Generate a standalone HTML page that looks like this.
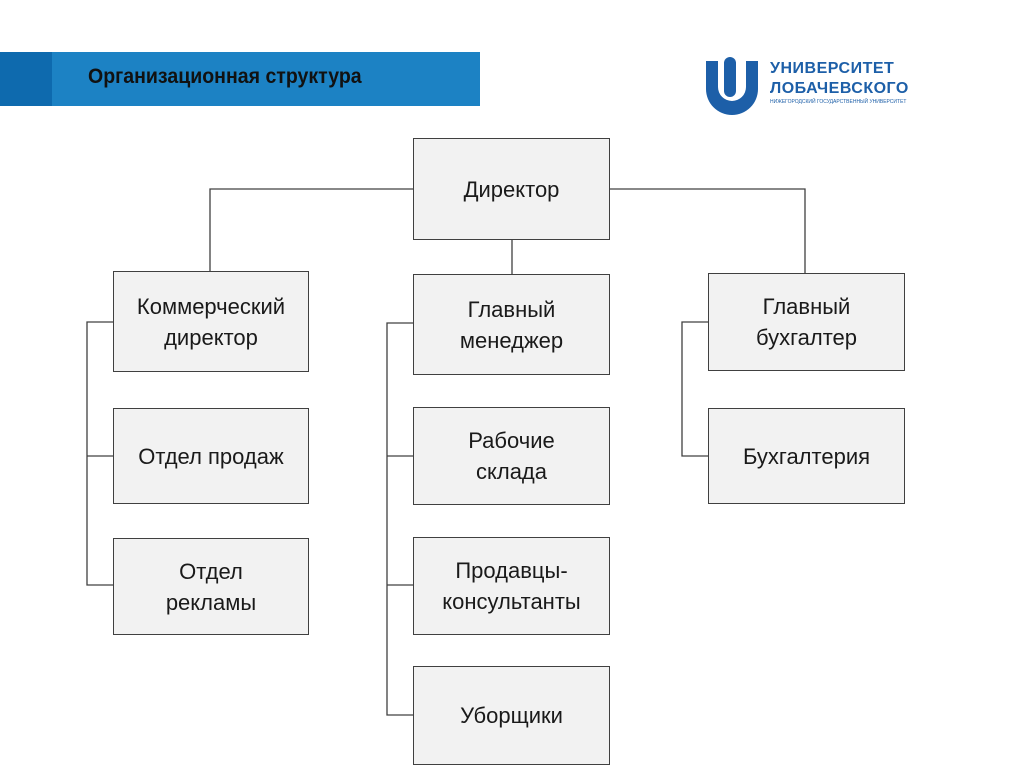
<!DOCTYPE html>
<html><head><meta charset="utf-8"><style>
body{margin:0;width:1024px;height:767px;background:#fff;position:relative;overflow:hidden;font-family:"Liberation Sans",sans-serif}
.b{position:absolute;background:#f2f2f2;border:1px solid #404040;box-sizing:border-box;display:flex;align-items:center;justify-content:center;text-align:center;font-size:22px;line-height:31px;color:#1a1a1a}
</style></head><body>
<div style="position:absolute;left:0;top:52px;width:480px;height:54px;background:#1c82c4"></div>
<div style="position:absolute;left:0;top:52px;width:52px;height:54px;background:#0e6aae"></div>
<div style="position:absolute;left:88px;top:65px;font-size:21px;font-weight:bold;color:#111;transform:scaleX(0.93);transform-origin:left">Организационная структура</div>
<svg style="position:absolute;left:702px;top:55px" width="60" height="60"><path d="M4 6 h12 v26 a14 14 0 0 0 28 0 v-26 h12 v28 a26 26 0 0 1 -52 0z" fill="#1d5fa8"/><rect x="22" y="2" width="12" height="40" rx="6" fill="#1d5fa8"/></svg>
<div style="position:absolute;left:770px;top:59px;font-size:16px;font-weight:bold;color:#1d5fa8;line-height:20px;letter-spacing:0.5px">УНИВЕРСИТЕТ<br>ЛОБАЧЕВСКОГО</div>
<div style="position:absolute;left:770px;top:99px;font-size:5px;color:#1d5fa8">НИЖЕГОРОДСКИЙ ГОСУДАРСТВЕННЫЙ УНИВЕРСИТЕТ</div>
<svg style="position:absolute;left:0;top:0" width="1024" height="767" fill="none" stroke="#404040" stroke-width="1.3">
<path d="M413 189H210V271M610 189H805V273M512 240V274"/>
<path d="M113 322H87V585H113M87 456H113"/>
<path d="M413 323H387V715H413M387 456H413M387 585H413"/>
<path d="M708 322H682V456H708"/>
</svg>
<div class="b" style="left:413px;top:138px;width:197px;height:102px">Директор</div>
<div class="b" style="left:113px;top:271px;width:196px;height:101px">Коммерческий<br>директор</div>
<div class="b" style="left:413px;top:274px;width:197px;height:101px">Главный<br>менеджер</div>
<div class="b" style="left:708px;top:273px;width:197px;height:98px">Главный<br>бухгалтер</div>
<div class="b" style="left:113px;top:408px;width:196px;height:96px">Отдел продаж</div>
<div class="b" style="left:113px;top:538px;width:196px;height:97px">Отдел<br>рекламы</div>
<div class="b" style="left:413px;top:407px;width:197px;height:98px">Рабочие<br>склада</div>
<div class="b" style="left:413px;top:537px;width:197px;height:98px">Продавцы-<br>консультанты</div>
<div class="b" style="left:413px;top:666px;width:197px;height:99px">Уборщики</div>
<div class="b" style="left:708px;top:408px;width:197px;height:96px">Бухгалтерия</div>
</body></html>
